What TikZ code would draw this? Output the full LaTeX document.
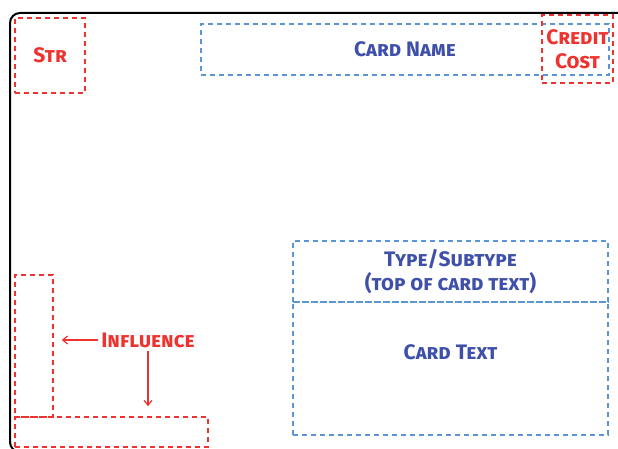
\documentclass[tikz,border=0pt]{standalone}
\usepackage{fontspec}
\setsansfont{Fira Sans}
\usetikzlibrary{arrows.meta, positioning}
\definecolor{cardred}{RGB}{238,50,45}
\definecolor{cardblue}{RGB}{90,150,215}
\definecolor{cardink}{RGB}{62,80,170}

\begin{document}
\begin{tikzpicture}[
         x=1pt, y=-1pt,
         zone/.style={draw, dashed, line width=1.5pt, dash pattern=on 5pt off 4pt, inner sep=0pt},
         redzone/.style={zone, draw=cardred},
         bluezone/.style={zone, draw=cardblue},
         label font/.style={font=\sffamily\bfseries\scshape\fontsize{21}{27}\selectfont, align=center},
         redtext/.style={label font, text=cardred},
         bluetext/.style={label font, text=cardink}
      ]
         \useasboundingbox (0,0) rectangle (618,449);

         % Card outline
         \begin{scope}
            \clip (0,0) rectangle (618,449);
            \draw[line width=2pt, rounded corners=10pt] (10,13) rectangle (650,452);
         \end{scope}

         % Zones on the card
         \node[redzone, minimum width=70, minimum height=75] (str) at (50,55.5) {};
         \node[bluezone, minimum width=408, minimum height=51] (name) at (405,49.5) {};
         \node[redzone, minimum width=71, minimum height=68] (credit) at (577.5,49) {};
         \node[bluezone, minimum width=315, minimum height=61] (type) at (450.5,271.5) {};
         \node[bluezone, minimum width=315, minimum height=133] (textbox) at (450.5,368.5) {};
         \node[redzone, minimum width=38, minimum height=142] (inflv) at (34,346) {};
         \node[redzone, minimum width=193, minimum height=30] (inflh) at (111.5,432) {};

         % Labels
         \node[redtext] (strlabel) at (str) {Str};
         \node[bluetext] (namelabel) at (name) {Card Name};
         \node[redtext] (creditlabel) at (credit) {Credit\\[-3pt]Cost};
         \node[bluetext] (typelabel) at (type) {Type/Subtype\\[-3pt](top of card text)};
         \node[bluetext] (textlabel) at (450.5,352) {Card Text};
         \node[redtext] (infl) at (148,340) {Influence};

         % Arrows to the influence zones
         \draw[cardred, line width=1.2pt, -{Straight Barb[length=5pt, width=8pt]}, shorten >=8pt]
            (infl.west) -- (infl.west -| inflv.east);
         \draw[cardred, line width=1.2pt, -{Straight Barb[length=5pt, width=8pt]}, shorten >=10pt]
            (infl.south) -- (infl.south |- inflh.north);
      \end{tikzpicture}
\end{document}
